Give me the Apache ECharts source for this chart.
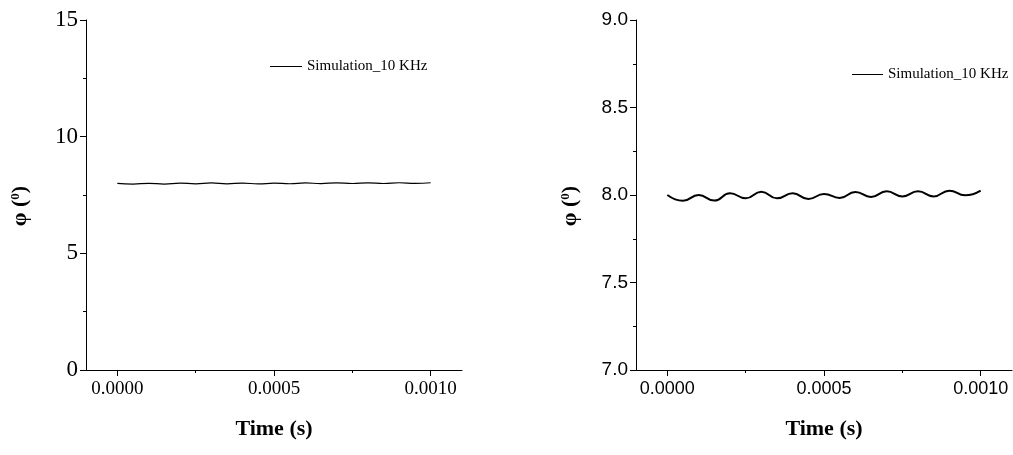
<!DOCTYPE html>
<html>
<head>
<meta charset="utf-8">
<script src="https://cdn.jsdelivr.net/npm/echarts@6/dist/echarts.min.js"></script>
<style>
  html, body { margin: 0; padding: 0; background: #fff; }
  #chart { width: 1013px; height: 455px; }
</style>
</head>
<body>
<div id="chart"></div>
<script>
// Phase angle of the 10 kHz simulation, sampled at each crest and trough
const timeS = [0, 0.00005, 0.0001, 0.00015, 0.0002, 0.00025, 0.0003, 0.00035, 0.0004, 0.00045,
               0.0005, 0.00055, 0.0006, 0.00065, 0.0007, 0.00075, 0.0008, 0.00085, 0.0009, 0.00095, 0.001];
const phiDeg = [8.000, 7.967, 8.000, 7.968, 8.010, 7.981, 8.019, 7.981, 8.010, 7.977,
                8.006, 7.983, 8.017, 7.989, 8.021, 7.992, 8.021, 7.992, 8.025, 7.998, 8.025];
const seriesName = 'Simulation_10 KHz';

// Tick positions
const timeTicks = [0, 0.0005, 0.001];
const timeMinorTicks = [0.00025, 0.00075];
const timeRange = [-0.0001, 0.0011];
const leftYRange = [0, 15];
const rightYRange = [7, 9];

const points = timeS.map((t, i) => [t, phiDeg[i]]);

const serif = 'Liberation Serif';
const sans = 'Liberation Sans';

function mainX(gridIndex, font, size) {
  return {
    type: 'value', gridIndex, position: 'bottom',
    min: timeRange[0], max: timeRange[1],
    name: 'Time (s)', nameLocation: 'middle', nameGap: 48,
    nameTextStyle: { fontFamily: serif, fontWeight: 'bold', fontSize: 22, color: '#000' },
    axisLine: { show: true, onZero: false, lineStyle: { color: '#000', width: 1 } },
    axisTick: { show: true, customValues: timeTicks, length: 6, inside: false, lineStyle: { color: '#000' } },
    axisLabel: { show: true, customValues: timeTicks, margin: 10, fontFamily: font, fontSize: size, color: '#000',
                 formatter: v => v.toFixed(4) },
    splitLine: { show: false }
  };
}
function minorX(gridIndex) {
  return {
    type: 'value', gridIndex, position: 'bottom',
    min: timeRange[0], max: timeRange[1],
    axisLine: { show: false, onZero: false },
    axisTick: { show: true, customValues: timeMinorTicks, length: 3, lineStyle: { color: '#000' } },
    axisLabel: { show: false },
    splitLine: { show: false }
  };
}
function yAx(gridIndex, range, interval, font, size, digits) {
  return {
    type: 'value', gridIndex, position: 'left', min: range[0], max: range[1], interval,
    name: '{a|φ (}{s|0}{a|)}', nameLocation: 'middle', nameGap: 54,
    nameTextStyle: {
      padding: [0, 22, 0, 0],
      rich: {
        a: { fontFamily: serif, fontWeight: 'bold', fontSize: 22, color: '#000' },
        s: { fontFamily: serif, fontWeight: 'bold', fontSize: 13, color: '#000', verticalAlign: 'top', padding: [0, 0, 10, 0] }
      }
    },
    axisLine: { show: true, onZero: false, lineStyle: { color: '#000', width: 1 } },
    axisTick: { show: true, length: 6, lineStyle: { color: '#000' } },
    minorTick: { show: true, splitNumber: 2, length: 3, lineStyle: { color: '#000' } },
    axisLabel: { margin: 8, fontFamily: font, fontSize: size, color: '#000',
                 formatter: v => v.toFixed(digits) },
    splitLine: { show: false }
  };
}

const option = {
  animation: false,
  backgroundColor: '#fff',
  grid: [
    { left: 86, top: 20, width: 376, height: 350 },
    { left: 636, top: 20, width: 376, height: 350 }
  ],
  xAxis: [mainX(0, serif, 19), minorX(0), mainX(1, sans, 18), minorX(1)],
  yAxis: [yAx(0, leftYRange, 5, serif, 23, 0), yAx(1, rightYRange, 0.5, sans, 19, 1)],
  legend: [
    { left: 265, top: 54, data: [seriesName], icon: 'rect', itemWidth: 32, itemHeight: 1,
      itemStyle: { color: '#000' }, selectedMode: false,
      textStyle: { fontFamily: serif, fontSize: 15, color: '#000' } },
    { left: 847, top: 62, data: [seriesName], icon: 'rect', itemWidth: 31, itemHeight: 1,
      itemStyle: { color: '#000' }, selectedMode: false,
      textStyle: { fontFamily: serif, fontSize: 15, color: '#000' } }
  ],
  series: [
    { name: seriesName, type: 'line', xAxisIndex: 0, yAxisIndex: 0, data: points,
      showSymbol: false, symbol: 'none', smooth: true,
      lineStyle: { color: '#000', width: 1.2 }, itemStyle: { color: '#000' } },
    { name: seriesName, type: 'line', xAxisIndex: 2, yAxisIndex: 1, data: points,
      showSymbol: false, symbol: 'none', smooth: true,
      lineStyle: { color: '#000', width: 2 }, itemStyle: { color: '#000' } }
  ]
};

const chart = echarts.init(document.getElementById('chart'), null, { renderer: 'canvas' });
chart.setOption(option);
</script>
</body>
</html>
